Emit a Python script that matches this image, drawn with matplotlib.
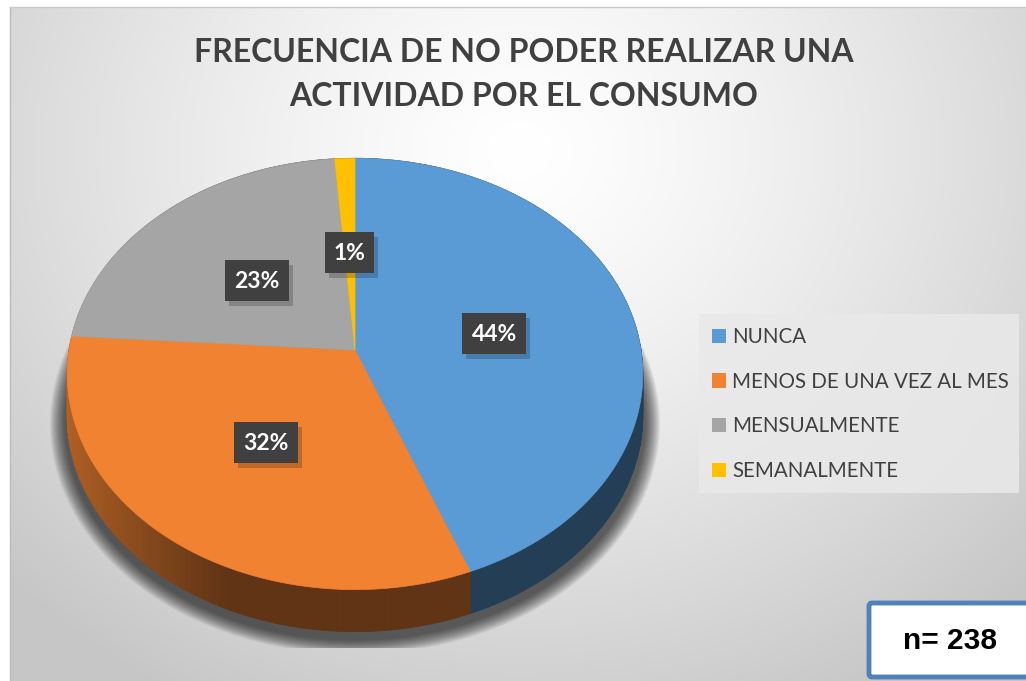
import numpy as np
import matplotlib
matplotlib.use('Agg')
import matplotlib.pyplot as plt
from matplotlib.patches import Polygon, Rectangle, Patch, FancyBboxPatch
from matplotlib.collections import PolyCollection
from matplotlib.colors import to_rgb

TITLE_LINES = ['FRECUENCIA DE NO PODER REALIZAR UNA', 'ACTIVIDAD POR EL CONSUMO']
categories = ['NUNCA', 'MENOS DE UNA VEZ AL MES', 'MENSUALMENTE', 'SEMANALMENTE']
counts = [105, 76, 54, 3]
colors = ['#5B9BD5', '#F08232', '#A5A5A5', '#FFC000']
N_TEXT = 'n= 238'

W, H = 1026, 681
CX, CY = 355, 350          # pie centre in pixels
RX, RY = 286, 213          # radii
K = 0.111                  # perspective strength
DEPTH = 42


def project(theta, r=1.0):
    # theta measured clockwise from 12 o'clock
    u = r * np.sin(theta)
    v = -r * np.cos(theta)
    s = 1.0 / (1.0 - K * v)
    return CX + RX * u * s, CY + RY * v * s


def shade(color, theta):
    u = np.sin(theta)
    f = 0.4 + 0.35 * np.clip((-u - 0.4) / 0.6, 0, 1)
    return tuple(np.array(to_rgb(color)) * f)


fig = plt.figure(figsize=(W / 100, H / 100), dpi=100)
ax = fig.add_axes([0, 0, 1, 1])
ax.set_xlim(0, W)
ax.set_ylim(H, 0)
ax.axis('off')

# background gradient
yy, xx = np.mgrid[0:H, 0:W]
d = np.sqrt(((xx - 520) / 700.0) ** 2 + ((yy - 150) / 620.0) ** 2)
d = np.clip(d, 0, 1)
g = 1.0 - 0.22 * d ** 1.3
bg = np.dstack([g, g, g])
bg[:, :10] = 1.0
bg[:7, :] = 1.0
ax.imshow(bg, extent=(0, W, H, 0), zorder=0, interpolation='bilinear')
ax.plot([10, 10], [7, H], color='#BBBBBB', lw=1, zorder=1)
ax.plot([10, W], [7, 7], color='#CCCCCC', lw=1, zorder=1)

# soft shadow below the pie
t = np.linspace(0, 2 * np.pi, 200)
for i in range(16):
    grow = 18 - i
    sx, sy = project(t, 1.0)
    ex = CX + (sx - CX) * (1 + grow / 300.0)
    ey = CY + (sy - CY) * (1 + grow / 260.0) + DEPTH + 6
    ey = np.minimum(ey, 648)
    ax.fill(ex, ey, color='#000000', alpha=0.05, lw=0, zorder=2)

total = sum(counts)
fracs = np.array(counts) / total
bounds = np.concatenate([[0], np.cumsum(fracs)]) * 2 * np.pi

# sides
quads, qcols = [], []
for i, col in enumerate(colors):
    ts = np.linspace(bounds[i], bounds[i + 1], max(3, int(300 * fracs[i])))
    for a, b in zip(ts[:-1], ts[1:]):
        xa, ya = project(a)
        xb, yb = project(b)
        quads.append([(xa, ya), (xb, yb), (xb, yb + DEPTH), (xa, ya + DEPTH)])
        qcols.append(shade(col, (a + b) / 2))
ax.add_collection(PolyCollection(quads, facecolors=qcols, edgecolors=qcols,
                                 linewidths=0.6, zorder=3))

# top faces
for i, col in enumerate(colors):
    ts = np.linspace(bounds[i], bounds[i + 1], max(3, int(400 * fracs[i])))
    px, py = project(ts)
    pts = [(CX, CY)] + list(zip(px, py))
    ax.add_patch(Polygon(pts, closed=True, facecolor=col, edgecolor=col,
                         lw=0.5, zorder=4))

# data labels
for i in range(len(counts)):
    mid = (bounds[i] + bounds[i + 1]) / 2
    lx, ly = project(mid, 0.5)
    ly += 3
    pct = '{:.0f}%'.format(fracs[i] * 100)
    bw = 64 if len(pct) > 2 else 49
    bh = 41
    ax.add_patch(Rectangle((lx - bw / 2 + 4, ly - bh / 2 + 5), bw, bh,
                           facecolor='#000000', alpha=0.2, lw=0, zorder=5))
    ax.add_patch(Rectangle((lx - bw / 2, ly - bh / 2), bw, bh,
                           facecolor='#404040', lw=0, zorder=6))
    ax.text(lx, ly + 1, pct, color='white', fontsize=16.5, fontweight='bold',
            family='Lato', ha='center', va='center', zorder=7)

# title
for line, ty in zip(TITLE_LINES, [53, 97]):
    ax.text(524, ty, line, ha='center', va='center', fontsize=23,
            fontweight='bold', family='Lato', color='#404040', zorder=7)

# legend
ax.add_patch(Rectangle((699, 314), 320, 179, facecolor='#E9E9E9',
                       alpha=0.85, lw=0, zorder=5))
handles = [Patch(facecolor=c, edgecolor='none') for c in colors]
leg = ax.legend(handles, categories, loc='upper left',
                bbox_to_anchor=(712 / W, 1 - 327 / H),
                frameon=False, handlelength=0.68, handleheight=0.68,
                handletextpad=0.29, labelspacing=1.2, borderpad=0,
                borderaxespad=0, prop={'family': 'Lato', 'size': 14.8})
for txt in leg.get_texts():
    txt.set_color('#404040')
leg.set_zorder(8)

# n box
ax.add_patch(FancyBboxPatch((869, 603), 170, 74,
                            boxstyle='round,pad=0,rounding_size=3',
                            facecolor='white', edgecolor='#4F81BD', lw=3.5,
                            zorder=8))
ax.text(950, 641, N_TEXT, ha='center', va='center', fontsize=21.5,
        fontweight='bold', family='Liberation Sans', color='black', zorder=9)

fig.savefig('out.png', dpi=100)
